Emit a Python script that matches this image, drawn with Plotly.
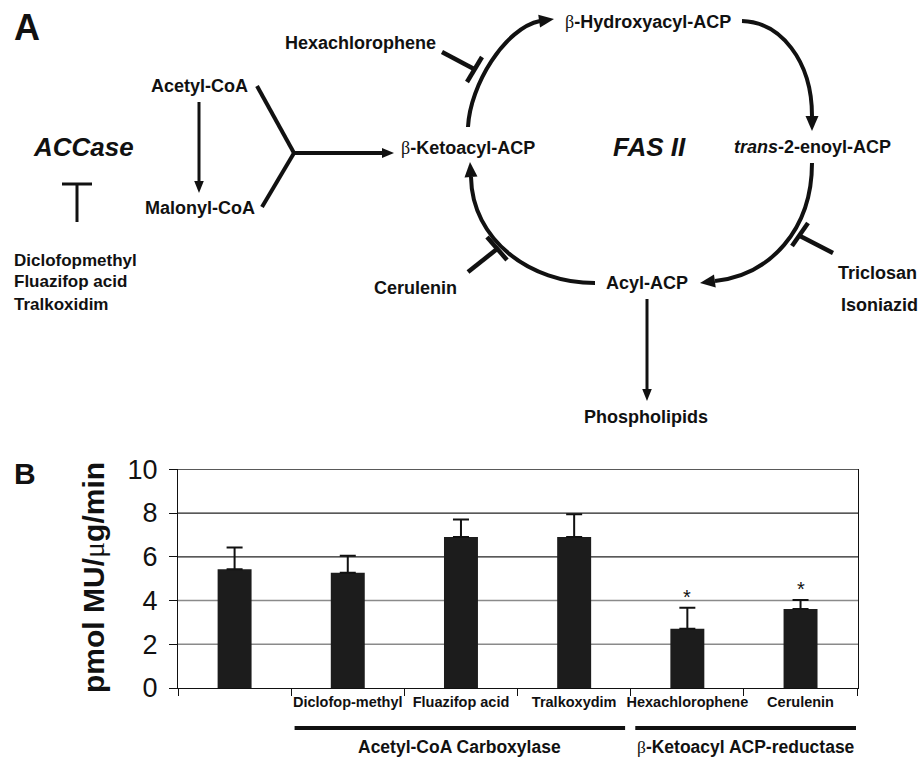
import math
import plotly.graph_objects as go

W, H = 918, 757

# ---------------- data (panel B) ----------------
categories = ["Control", "Diclofop-methyl", "Fluazifop acid", "Tralkoxydim", "Hexachlorophene", "Cerulenin"]
tick_labels = ["", "Diclofop-methyl", "Fluazifop acid", "Tralkoxydim", "Hexachlorophene", "Cerulenin"]
activity = [5.43, 5.27, 6.90, 6.90, 2.71, 3.61]
activity_err = [1.00, 0.78, 0.80, 1.04, 0.96, 0.41]
significant = [False, False, False, False, True, True]
y_ticks = [0, 2, 4, 6, 8, 10]
grid_values = [2, 4, 6, 8, 10]
grid_colors = ["#8a8a8a", "#8a8a8a", "#222222", "#222222", "#222222"]
groups = ["Acetyl-CoA Carboxylase", "<span style='font-family:Liberation Serif;font-weight:normal'>β</span>-Ketoacyl ACP-reductase"]
group_spans = [(0.53, 3.45), (3.54, 5.49)]

FONT = "Liberation Sans, Arial, sans-serif"

def px(x):
    return x / W

def py(y):
    return 1 - y / H

fig = go.Figure()

fig.add_trace(go.Bar(
    x=categories, y=activity, width=0.3,
    marker=dict(color="#1c1c1c", line=dict(width=0)),
    error_y=dict(type="data", symmetric=False, array=activity_err,
                 arrayminus=[0] * len(activity), color="#111111",
                 thickness=2, width=8),
    showlegend=False, hoverinfo="skip",
))

shapes = []
annotations = []

# grid lines
for gv, gc in zip(grid_values, grid_colors):
    shapes.append(dict(type="line", xref="x domain", yref="y", x0=0, x1=1, y0=gv, y1=gv,
                       line=dict(color=gc, width=1.3), layer="below"))

# asterisks
for c, v, e, s in zip(categories, activity, activity_err, significant):
    if s:
        annotations.append(dict(x=c, y=v + e, xref="x", yref="y", text="*", showarrow=False,
                                xanchor="center", yanchor="bottom", yshift=-2,
                                font=dict(family=FONT, size=20, color="#111")))

# group lines & labels
for (g0, g1), label in zip(group_spans, groups):
    shapes.append(dict(type="line", xref="x", yref="paper", x0=g0, x1=g1,
                       y0=py(728), y1=py(728), line=dict(color="#111", width=4)))
    annotations.append(dict(x=(g0 + g1) / 2, y=py(747), xref="x", yref="paper",
                            text=label, showarrow=False, xanchor="center", yanchor="middle",
                            font=dict(family=FONT, size=17.5, color="#111", weight=700)))

# B label and y title
annotations.append(dict(x=px(25), y=py(473), xref="paper", yref="paper", text="B", showarrow=False,
                        xanchor="center", yanchor="middle",
                        font=dict(family=FONT, size=30, color="#111", weight=700)))
annotations.append(dict(x=px(93), y=py(578), xref="paper", yref="paper",
                        text="pmol MU/<span style='font-family:Liberation Serif;font-weight:normal'>μ</span>g/min",
                        textangle=-90, showarrow=False, xanchor="center", yanchor="middle",
                        font=dict(family=FONT, size=30, color="#111", weight=700)))

# ---------------- panel A: schematic ----------------
def P(x, y):
    return f"{px(x):.5f},{py(y):.5f}"

def add_line(x0, y0, x1, y1, w):
    shapes.append(dict(type="line", xref="paper", yref="paper", x0=px(x0), y0=py(y0),
                       x1=px(x1), y1=py(y1), line=dict(color="#111", width=w)))

def add_head(tip, frm, length, half):
    dx, dy = tip[0] - frm[0], tip[1] - frm[1]
    n = math.hypot(dx, dy)
    ux, uy = dx / n, dy / n
    bx, by = tip[0] - ux * length, tip[1] - uy * length
    nx, ny = -uy, ux
    path = f"M {P(*tip)} L {P(bx + nx * half, by + ny * half)} L {P(bx - nx * half, by - ny * half)} Z"
    shapes.append(dict(type="path", xref="paper", yref="paper", path=path,
                       fillcolor="#111", line=dict(width=0)))

def add_curve(p0, p1, p2, p3, w):
    path = f"M {P(*p0)} C {P(*p1)} {P(*p2)} {P(*p3)}"
    shapes.append(dict(type="path", xref="paper", yref="paper", path=path,
                       line=dict(color="#111", width=w)))

# cycle arcs
add_curve((468, 127), (470, 85), (505, 28), (540, 21), 4)
add_head((554, 19), (540, 21), 15, 6.5)
add_curve((742, 21), (780, 22), (812, 60), (812, 116), 4)
add_head((812, 131), (812, 116), 15, 6.5)
add_curve((812, 163), (812, 230), (770, 275), (715, 281), 4)
add_head((700, 283), (715, 281), 15, 6.5)
add_curve((595, 283), (530, 283), (472, 240), (471, 177), 4)
add_head((470, 162), (471, 177), 15, 6.5)

# inhibitors
add_line(442, 52, 474, 69, 4.5)
add_line(467, 82, 482, 57, 4.5)
add_line(468, 272, 497, 249, 4.5)
add_line(487, 237, 507, 260, 4.5)
add_line(833, 253, 800, 236, 4.5)
add_line(792, 246, 808, 223, 4.5)

# straight arrows
add_line(199, 102, 199, 183, 3)
add_head((199, 193), (199, 183), 12, 4.8)
add_line(257, 86, 294, 153, 4)
add_line(262, 207, 294, 153, 4)
add_line(292, 153, 384, 153, 4)
add_head((394, 153), (384, 153), 12, 5)
add_line(647, 299, 647, 389, 3)
add_head((647, 401), (647, 389), 12, 4.8)

# ACCase T
add_line(62, 184, 92, 184, 3)
add_line(77, 184, 77, 222, 3)

BETA = "<span style='font-family:Liberation Serif;font-weight:normal'>β</span>"
texts = [
    ("A", 27, 27, 36, "center", False),
    ("ACCase", 83, 147, 26, "center", True),
    ("Diclofopmethyl", 12, 260, 17, "left", False),
    ("Fluazifop acid", 12, 282, 17, "left", False),
    ("Tralkoxidim", 12, 304, 17, "left", False),
    ("Acetyl-CoA", 199, 86, 18, "center", False),
    ("Malonyl-CoA", 200, 208, 18, "center", False),
    ("Hexachlorophene", 360, 43, 18, "center", False),
    (BETA + "-Ketoacyl-ACP", 468, 148, 18, "center", False),
    (BETA + "-Hydroxyacyl-ACP", 648, 22, 18, "center", False),
    ("FAS II", 649, 147, 26, "center", True),
    ("<i>trans</i>-2-enoyl-ACP", 812, 147, 18, "center", False),
    ("Acyl-ACP", 647, 283, 18, "center", False),
    ("Cerulenin", 415, 288, 18, "center", False),
    ("Triclosan", 877, 273, 18, "center", False),
    ("Isoniazid", 879, 305, 18, "center", False),
    ("Phospholipids", 646, 417, 18, "center", False),
]
for t, x, y, s, anc, ital in texts:
    txt = f"<i>{t}</i>" if ital else t
    annotations.append(dict(x=px(x), y=py(y), xref="paper", yref="paper", text=txt,
                            showarrow=False, xanchor=anc, yanchor="middle",
                            font=dict(family=FONT, size=s, color="#111", weight=700)))

fig.update_layout(
    width=W, height=H,
    margin=dict(l=0, r=0, t=0, b=0),
    paper_bgcolor="white", plot_bgcolor="white",
    bargap=0.7,
    xaxis=dict(domain=[px(178), px(858)], type="category",
               categoryorder="array", categoryarray=categories,
               tickmode="array", tickvals=categories, ticktext=tick_labels,
               tickson="boundaries", ticks="outside", ticklen=7, tickcolor="#111",
               tickangle=0,
               showline=True, linecolor="#111", linewidth=1.2, showgrid=False,
               tickfont=dict(family=FONT, size=14.5, color="#111", weight=700),
               automargin=False, fixedrange=True),
    yaxis=dict(domain=[py(688), py(469.3)], range=[0, 10], tickvals=y_ticks,
               ticks="outside", ticklen=8, tickcolor="#111", ticklabelstandoff=6,
               showline=True, linecolor="#111", linewidth=1.2, mirror=True,
               showgrid=False, zeroline=False,
               tickfont=dict(family=FONT, size=27, color="#111"),
               automargin=False, fixedrange=True),
    shapes=shapes,
    annotations=annotations,
)

fig.write_html("out.html", config={"displayModeBar": False},
               post_script="document.body.style.margin='0';document.body.style.overflow='hidden';")
